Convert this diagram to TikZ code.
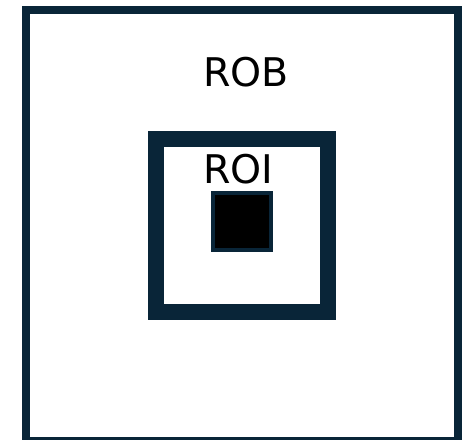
\documentclass[tikz,border=0pt]{standalone}
\usepackage{fontspec}
\setmainfont{DejaVu Sans}
\definecolor{navy}{RGB}{9,37,56}
\begin{document}
\begin{tikzpicture}[x=1pt,y=-1pt,
  lbl/.style={anchor=base west,inner sep=0pt,font=\fontsize{39.5}{40}\selectfont}]
\useasboundingbox (0,0) rectangle (465,439);
\clip (0,0) rectangle (465,439);
\fill[white] (0,0) rectangle (465,439);
\draw[navy,line width=8pt] (26,9.5) rectangle (458,441);
\draw[navy,line width=16pt] (156,139) rectangle (328,312);
\draw[navy,fill=black,line width=4pt] (213,192.7) rectangle (271,250.3);
\node[lbl] (rob) at (203,86) {ROB};
\node[lbl] (roi) at (203,183) {ROI};
\end{tikzpicture}
\end{document}
